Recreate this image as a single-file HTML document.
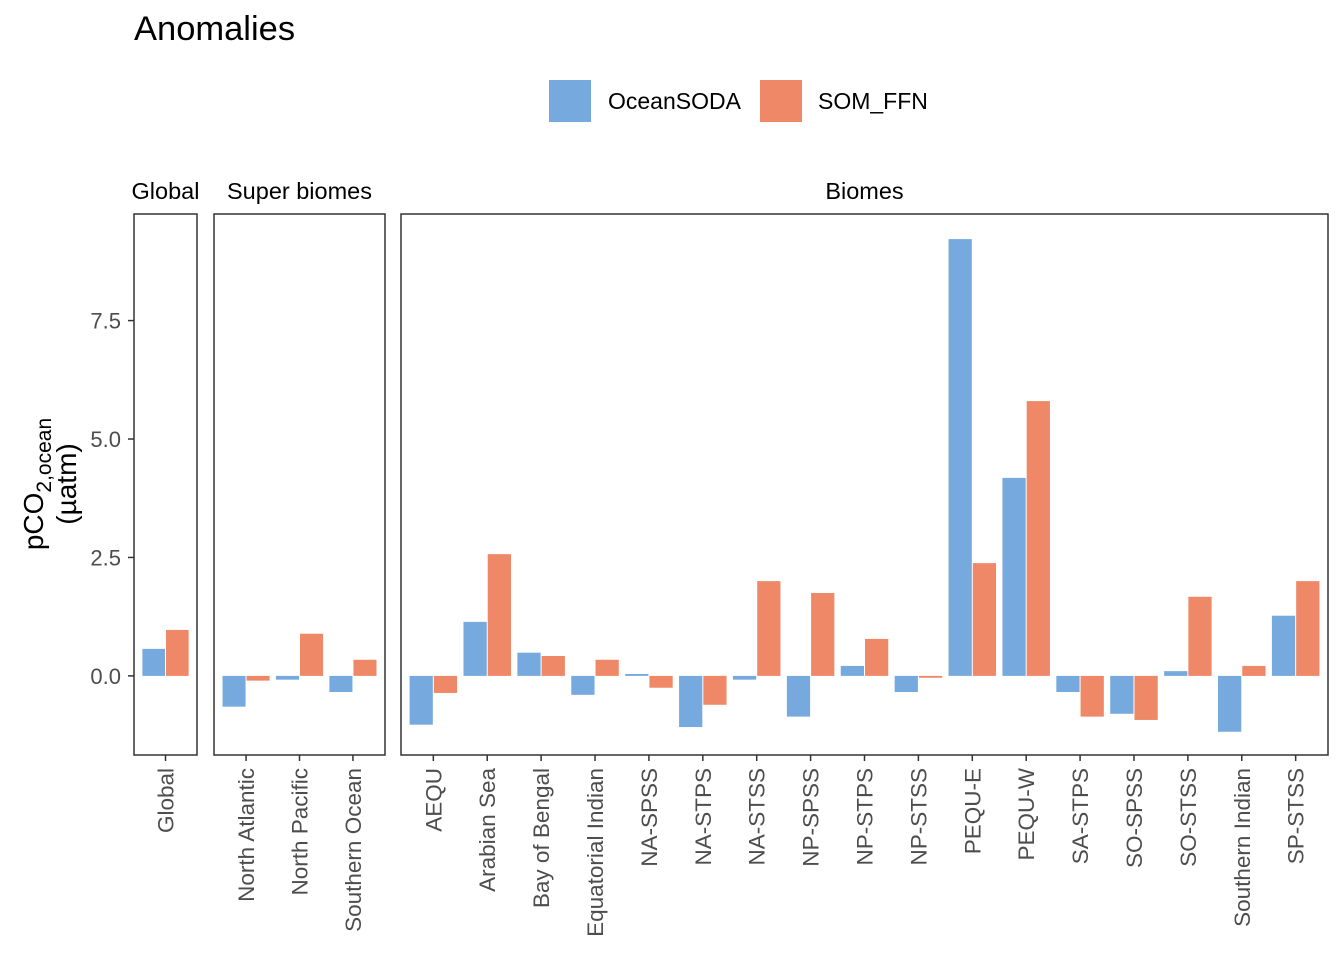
<!DOCTYPE html>
<html><head><meta charset="utf-8"><style>
body{margin:0;background:#fff}
svg text{font-family:"Liberation Sans",sans-serif}
</style></head><body>
<svg id="c" width="1344" height="960" xmlns="http://www.w3.org/2000/svg">
<text x="134" y="40" font-size="34.5" fill="#000">Anomalies</text>
<g>
<rect x="549" y="80" width="42" height="42" fill="#76aadf"/>
<text x="608" y="109" font-size="23">OceanSODA</text>
<rect x="760" y="80" width="42" height="42" fill="#ee8866"/>
<text x="818" y="109" font-size="23">SOM_FFN</text>
</g>
<g transform="translate(43,484) rotate(-90)">
<text x="0" y="0" font-size="28" text-anchor="middle">pCO<tspan font-size="21" dy="8">2,ocean</tspan></text>
<text x="0" y="33" font-size="28" text-anchor="middle">(µatm)</text>
</g>
</svg>
<script>
const globalCats=["Global"];
const globalBlue=[0.57];
const globalOrange=[0.97];
const superCats=["North Atlantic","North Pacific","Southern Ocean"];
const superBlue=[-0.65,-0.08,-0.34];
const superOrange=[-0.1,0.89,0.34];
const biomeCats=["AEQU","Arabian Sea","Bay of Bengal","Equatorial Indian","NA-SPSS","NA-STPS","NA-STSS","NP-SPSS","NP-STPS","NP-STSS","PEQU-E","PEQU-W","SA-STPS","SO-SPSS","SO-STSS","Southern Indian","SP-STSS"];
const biomeBlue=[-1.03,1.14,0.49,-0.4,0.04,-1.08,-0.08,-0.86,0.21,-0.34,9.22,4.18,-0.34,-0.8,0.1,-1.18,1.27];
const biomeOrange=[-0.36,2.57,0.42,0.34,-0.25,-0.61,2.0,1.75,0.78,-0.04,2.38,5.8,-0.86,-0.93,1.67,0.21,2.0];
const yTicks=[0,2.5,5,7.5];
const yTickLabels=["0.0","2.5","5.0","7.5"];
const NS="http://www.w3.org/2000/svg";
const svg=document.getElementById("c");
const pTop=214,pBot=755,ymin=-1.67,ymax=9.75;
function y(v){return pBot-(v-ymin)/(ymax-ymin)*(pBot-pTop);}
function mk(t,a,p){const e=document.createElementNS(NS,t);for(const k in a)e.setAttribute(k,a[k]);(p||svg).appendChild(e);return e;}
const panels=[
 {name:"global",title:"Global",x0:134,x1:197,cats:globalCats,b:globalBlue,o:globalOrange},
 {name:"super-biomes",title:"Super biomes",x0:214,x1:385,cats:superCats,b:superBlue,o:superOrange},
 {name:"biomes",title:"Biomes",x0:401,x1:1328,cats:biomeCats,b:biomeBlue,o:biomeOrange}];
panels.forEach(p=>{
 const n=p.cats.length,u=(p.x1-p.x0)/(n-1+1.2);
 const x=i=>p.x0+(0.6+i)*u;
 const g=mk("g",{});
 
 
 const st=mk("text",{x:(p.x0+p.x1)/2,y:199,"font-size":23.5,"text-anchor":"middle"},g);
 st.textContent=p.title;
 
 
 p.cats.forEach((c,i)=>{
  const w=0.45*u,cx=x(i);
  [[p.b[i],"#76aadf",cx-w,"oceansoda"],[p.o[i],"#ee8866",cx,"som-ffn"]].forEach(([v,col,bx,s])=>{
   const r=mk("rect",{x:bx+0.5,y:Math.min(y(v),y(0)),width:w-1,height:Math.abs(y(v)-y(0)),fill:col},g);
   
   
  });
  mk("line",{x1:cx,x2:cx,y1:pBot,y2:pBot+6,stroke:"#333","stroke-width":1.5},g);
  const t=mk("text",{transform:`translate(${cx+8},${pBot+13}) rotate(-90)`,"font-size":22.5,fill:"#4d4d4d","text-anchor":"end"},g);
  t.textContent=c;
  
  
 });
 const fr=mk("rect",{x:p.x0,y:pTop,width:p.x1-p.x0,height:pBot-pTop,fill:"none",stroke:"#333","stroke-width":1.5},g);
 
 
});
yTicks.forEach((v,i)=>{
 mk("line",{x1:128,x2:134,y1:y(v),y2:y(v),stroke:"#333","stroke-width":1.5});
 const t=mk("text",{x:121,y:y(v)+8,"font-size":22,fill:"#4d4d4d","text-anchor":"end"});
 t.textContent=yTickLabels[i];
 
 
});
</script>
</body></html>
